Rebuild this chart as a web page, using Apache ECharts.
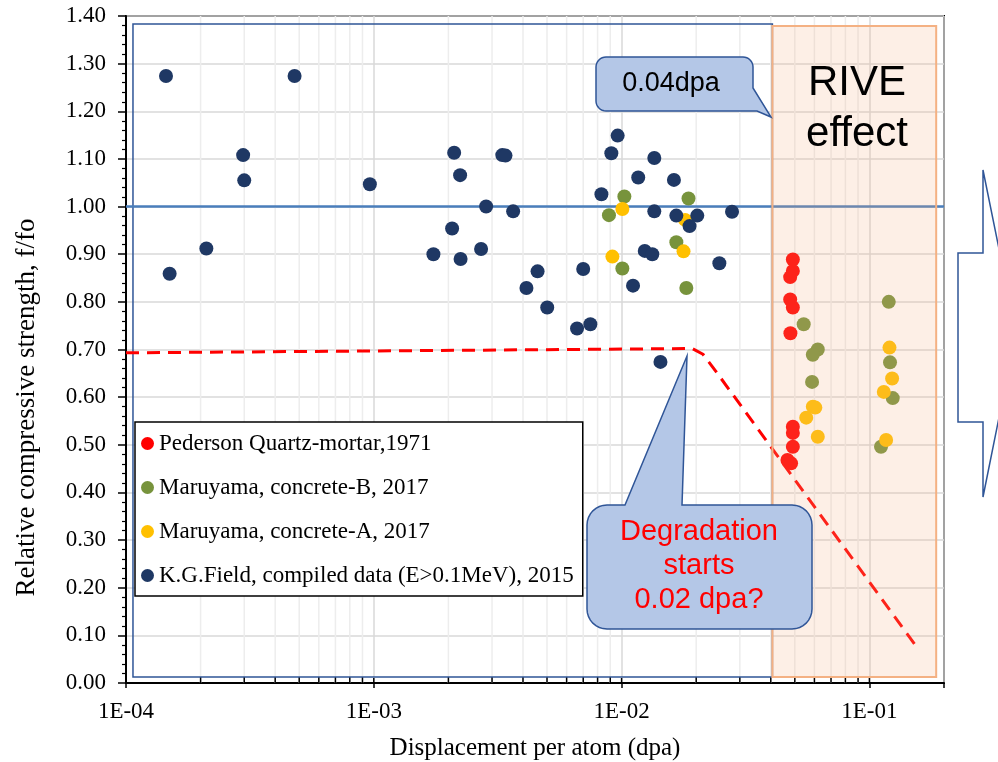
<!DOCTYPE html>
<html>
<head>
<meta charset="utf-8">
<script src="https://cdn.jsdelivr.net/npm/echarts@6/dist/echarts.min.js"></script>
<style>
  html, body { margin: 0; padding: 0; background: #fff; }
  #chart { width: 998px; height: 762px; }
</style>
</head>
<body>
<div id="chart"></div>
<script>
// ---- data: displacement per atom (dpa) vs relative compressive strength f/fo ----
const pedersonX = [4.91e-2, 4.91e-2, 4.79e-2, 4.79e-2, 4.91e-2, 4.80e-2, 4.91e-2, 4.91e-2, 4.91e-2, 4.83e-2, 4.67e-2];
const pedersonY = [0.889, 0.865, 0.852, 0.805, 0.788, 0.734, 0.538, 0.525, 0.496, 0.461, 0.468];

const concreteBX = [1.026e-2, 8.89e-3, 1.862e-2, 1.663e-2, 1.007e-2, 1.825e-2, 5.43e-2, 6.19e-2, 5.91e-2, 5.87e-2, 0.1197, 0.1211, 0.1242, 0.1114];
const concreteBY = [1.021, 0.982, 1.017, 0.925, 0.870, 0.829, 0.753, 0.700, 0.689, 0.632, 0.800, 0.673, 0.598, 0.496];

const concreteAX = [1.007e-2, 1.805e-2, 1.778e-2, 9.18e-3, 5.91e-2, 6.05e-2, 5.56e-2, 6.19e-2, 0.1205, 0.1235, 0.1143, 0.1168];
const concreteAY = [0.995, 0.972, 0.906, 0.895, 0.580, 0.578, 0.557, 0.517, 0.704, 0.639, 0.611, 0.510];

const fieldX = [1.45e-4, 4.79e-4, 2.97e-4, 3.0e-4, 2.11e-4, 1.50e-4, 9.64e-4, 2.11e-3, 2.23e-3, 3.30e-3,
                3.40e-3, 2.84e-3, 3.65e-3, 2.07e-3, 1.74e-3, 2.24e-3, 2.71e-3, 4.58e-3, 4.13e-3, 5.01e-3,
                7.00e-3, 6.61e-3, 7.48e-3, 8.29e-3, 9.64e-3, 9.09e-3, 1.355e-2, 1.167e-2, 1.626e-2, 1.355e-2,
                1.663e-2, 1.88e-2, 2.02e-2, 2.79e-2, 1.24e-2, 1.33e-2, 2.48e-2, 1.112e-2, 1.435e-2];
const fieldY = [1.274, 1.274, 1.108, 1.055, 0.912, 0.859, 1.047, 1.113, 1.066, 1.108,
                1.107, 1.000, 0.990, 0.954, 0.900, 0.890, 0.911, 0.864, 0.829, 0.788,
                0.869, 0.744, 0.753, 1.026, 1.149, 1.112, 1.102, 1.061, 1.056, 0.990,
                0.981, 0.959, 0.981, 0.989, 0.907, 0.900, 0.881, 0.834, 0.674];

// assumed degradation trend (dashed)
const trendX = [1e-4, 0.0193, 0.0213, 0.0241, 0.155];
const trendY = [0.693, 0.702, 0.690, 0.653, 0.076];

// reference level f/fo = 1
const refX = [1e-4, 0.2];
const refY = [1.0, 1.0];

// framed regions: [x0, y0, x1, y1]
const lowDoseBox = [1.067e-4, 0.0126, 0.0406, 1.383];
const riveBox = [0.0406, 0.0126, 0.186, 1.379];

// series names shown in the legend
const seriesNames = [
  'Pederson Quartz-mortar,1971',
  'Maruyama, concrete-B, 2017',
  'Maruyama, concrete-A, 2017',
  'K.G.Field, compiled data (E>0.1MeV), 2015'
];

// axis ranges
const xMin = 1e-4, xMax = 0.2;
const yMin = 0, yMax = 1.4, yStep = 0.1;

// log minor grid positions 2..9 in each decade
const minorGrid = [];
[1e-4, 1e-3, 1e-2].forEach(d => { for (let k = 2; k <= 9; k++) minorGrid.push(+(k * d).toPrecision(3)); });
const decades = [1e-4, 1e-3, 1e-2, 1e-1];

const SERIF = '"Liberation Serif","Times New Roman",serif';
const SANS = '"Liberation Sans",Arial,sans-serif';

const zip = (xs, ys) => xs.map((x, i) => [x, ys[i]]);

function sciLabel(v) {
  const e = Math.log10(v);
  const r = Math.round(e);
  if (Math.abs(e - r) > 1e-6) return '';
  return '1E' + (r < 0 ? '-' : '+') + String(Math.abs(r)).padStart(2, '0');
}

function boxRenderer(fill, stroke, width) {
  return function (params, api) {
    const p0 = api.coord([api.value(0), api.value(1)]);
    const p1 = api.coord([api.value(2), api.value(3)]);
    return {
      type: 'rect',
      shape: { x: p0[0], y: p1[1], width: p1[0] - p0[0], height: p0[1] - p1[1] },
      style: { fill: fill, stroke: stroke, lineWidth: width }
    };
  };
}

// quarter-circle corner points for the callout outlines
function arc(cx, cy, r, a0, a1) {
  const pts = [];
  const n = 8;
  for (let i = 0; i <= n; i++) {
    const a = (a0 + (a1 - a0) * i / n) * Math.PI / 180;
    pts.push([cx + r * Math.cos(a), cy + r * Math.sin(a)]);
  }
  return pts;
}

const calloutTop = [].concat(
  arc(606, 67, 10, 180, 270),
  arc(743, 67, 10, 270, 360),
  [[753, 88], [771, 117], [757, 111]],
  arc(606, 101, 10, 90, 180)
);

const calloutBottom = [].concat(
  arc(607, 525, 20, 180, 270),
  [[625, 505], [687, 356], [682, 505]],
  arc(792, 525, 20, 270, 360),
  arc(792, 609, 20, 0, 90),
  arc(607, 609, 20, 90, 180)
);

const chart = echarts.init(document.getElementById('chart'), null, { renderer: 'canvas' });

const markerSize = 14;

chart.setOption({
  animation: false,
  grid: {
    left: 126, right: 54, top: 16, bottom: 79, outerBoundsMode: 'none',
    show: true, borderColor: '#000', borderWidth: 2, backgroundColor: 'transparent'
  },
  xAxis: {
    type: 'log', logBase: 10, min: xMin, max: xMax,
    axisLine: { lineStyle: { color: '#000', width: 2 } },
    axisTick: { length: 5, lineStyle: { color: '#000', width: 1.5 } },
    axisLabel: { formatter: sciLabel, fontFamily: SERIF, fontSize: 23, color: '#000', margin: 17 },
    splitLine: { show: true, lineStyle: { color: '#D9D9D9', width: 1.5 } },
    name: 'Displacement per atom (dpa)', nameLocation: 'middle', nameGap: 53,
    nameTextStyle: { fontFamily: SERIF, fontSize: 25, color: '#000' }
  },
  yAxis: {
    type: 'value', min: yMin, max: yMax, interval: yStep,
    axisLine: { show: true, lineStyle: { color: '#000', width: 2 } },
    axisTick: { show: true, length: 8, lineStyle: { color: '#000', width: 1.5 } },
    minorTick: { show: true, splitNumber: 5, length: 4, lineStyle: { color: '#000', width: 1.2 } },
    axisLabel: { formatter: v => v.toFixed(2), fontFamily: SERIF, fontSize: 23, color: '#000', margin: 20 },
    splitLine: { show: true, lineStyle: { color: '#D9D9D9', width: 1.5 } }
  },
  legend: {
    data: seriesNames,
    orient: 'vertical', left: 135, top: 422,
    backgroundColor: '#fff', borderColor: '#000', borderWidth: 1.5,
    padding: [10, 9, 9, 6], itemGap: 21, itemWidth: 13, itemHeight: 13,
    icon: 'circle',
    textStyle: { fontFamily: SERIF, fontSize: 23, color: '#000' },
    selectedMode: false
  },
  series: [
    {
      // minor log grid lines and small inward ticks
      type: 'custom', silent: true, z: 1,
      data: minorGrid.map(v => [v, 0]),
      encode: { x: 0, y: 1 },
      renderItem: function (params, api) {
        const x = api.coord([api.value(0), yMin])[0];
        const bottom = api.coord([api.value(0), yMin])[1];
        const top = api.coord([api.value(0), yMax])[1];
        return {
          type: 'group',
          children: [
            { type: 'line', shape: { x1: x, y1: top, x2: x, y2: bottom }, style: { stroke: '#EDEDED', lineWidth: 1.5 } },
            { type: 'line', shape: { x1: x, y1: bottom - 6, x2: x, y2: bottom }, style: { stroke: '#000', lineWidth: 1.5 } }
          ]
        };
      }
    },
    {
      // inward part of the decade ticks
      type: 'custom', silent: true, z: 1,
      data: decades.map(v => [v, 0]),
      encode: { x: 0, y: 1 },
      renderItem: function (params, api) {
        const p = api.coord([api.value(0), yMin]);
        return { type: 'line', shape: { x1: p[0], y1: p[1] - 5, x2: p[0], y2: p[1] }, style: { stroke: '#000', lineWidth: 1.5 } };
      }
    },
    {
      type: 'custom', silent: true, z: 1,
      data: [lowDoseBox],
      encode: { x: [0, 2], y: [1, 3] },
      renderItem: boxRenderer('transparent', '#2F5597', 1.5)
    },
    {
      type: 'line', silent: true, z: 1,
      data: zip(refX, refY),
      symbol: 'none',
      lineStyle: { color: '#4A7EBB', width: 2.5 }
    },
    {
      type: 'line', silent: true, z: 2,
      data: zip(trendX, trendY),
      symbol: 'none',
      lineStyle: { color: '#FF0000', width: 3, type: [13, 8] }
    },
    {
      name: seriesNames[0], type: 'scatter', symbol: 'circle', symbolSize: markerSize, z: 3,
      itemStyle: { color: '#FF0000', opacity: 1 },
      data: zip(pedersonX, pedersonY)
    },
    {
      name: seriesNames[1], type: 'scatter', symbol: 'circle', symbolSize: markerSize, z: 3,
      itemStyle: { color: '#77933C', opacity: 1 },
      data: zip(concreteBX, concreteBY)
    },
    {
      name: seriesNames[2], type: 'scatter', symbol: 'circle', symbolSize: markerSize, z: 3,
      itemStyle: { color: '#FFC000', opacity: 1 },
      data: zip(concreteAX, concreteAY)
    },
    {
      name: seriesNames[3], type: 'scatter', symbol: 'circle', symbolSize: markerSize, z: 3,
      itemStyle: { color: '#1F3864', opacity: 1 },
      data: zip(fieldX, fieldY)
    },
    {
      // translucent RIVE band on top of the points
      type: 'custom', silent: true, z: 4,
      data: [riveBox],
      encode: { x: [0, 2], y: [1, 3] },
      renderItem: boxRenderer('rgba(244,177,131,0.2)', '#F4B183', 2)
    }
  ],
  graphic: [
    {
      type: 'polygon', z: 100,
      shape: { points: calloutTop },
      style: { fill: '#B4C7E7', stroke: '#2F5597', lineWidth: 1.5 }
    },
    {
      type: 'text', z: 101, x: 671, y: 84,
      style: { text: '0.04dpa', font: '27px ' + SANS, fill: '#000', align: 'center', verticalAlign: 'middle' }
    },
    {
      type: 'text', z: 101, x: 857, y: 108.5,
      style: { text: 'RIVE\neffect', font: '42px ' + SANS, fill: '#000', align: 'center', verticalAlign: 'middle', lineHeight: 51 }
    },
    {
      type: 'polygon', z: 100,
      shape: { points: calloutBottom },
      style: { fill: '#B4C7E7', stroke: '#2F5597', lineWidth: 1.5 }
    },
    {
      type: 'text', z: 101, x: 699, y: 566,
      style: { text: 'Degradation\nstarts\n0.02 dpa?', font: '29px ' + SANS, fill: '#FF0000', align: 'center', verticalAlign: 'middle', lineHeight: 34 }
    },
    {
      type: 'polygon', z: 100,
      shape: { points: [[958, 253], [983, 253], [983, 170], [1016, 333], [983, 497], [983, 422], [958, 422]] },
      style: { fill: '#fff', stroke: '#2F5597', lineWidth: 1.5 }
    },
    {
      type: 'text', z: 100, x: 26.5, y: 407.5, rotation: Math.PI / 2,
      style: { text: 'Relative compressive strength, f/fo', font: '27px ' + SERIF, fill: '#000', align: 'center', verticalAlign: 'middle' }
    }
  ]
});
</script>
</body>
</html>
